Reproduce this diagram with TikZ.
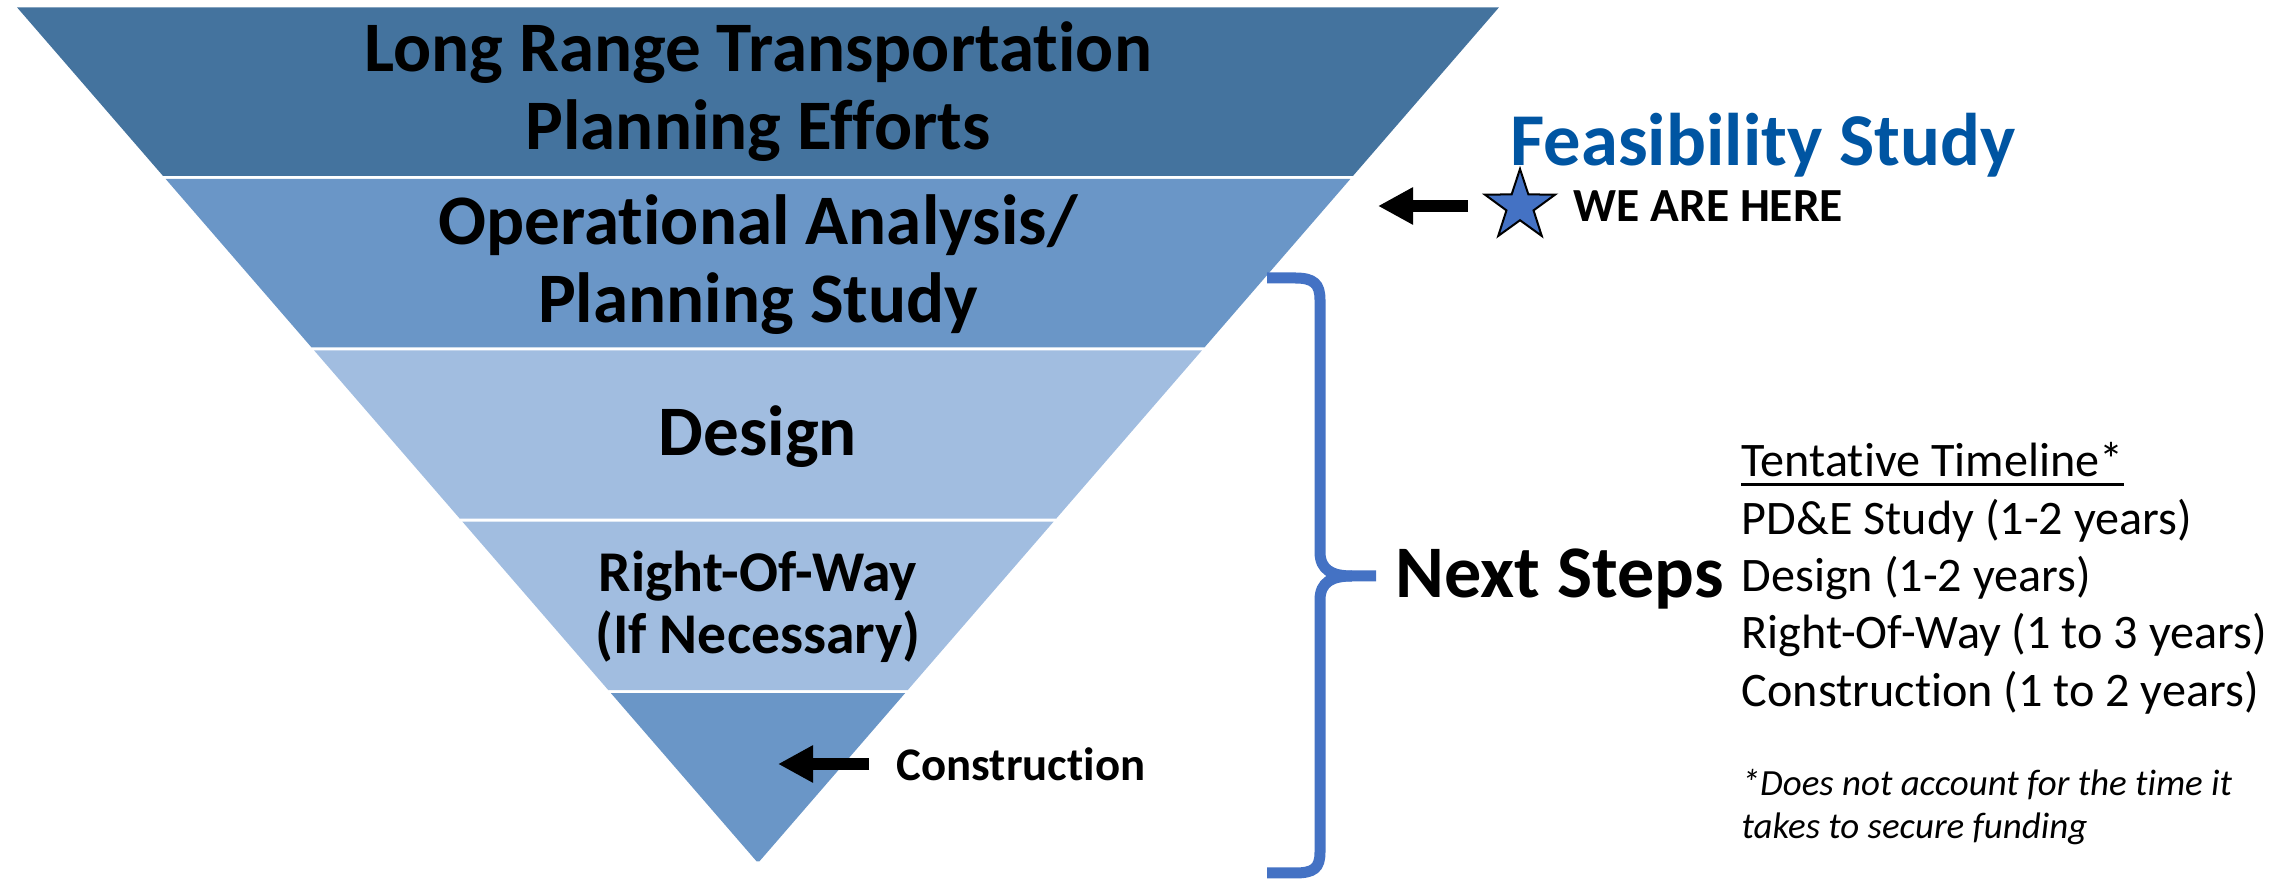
\documentclass[tikz,border=0pt]{standalone}
\usepackage{fontspec}
\setmainfont{Carlito}[Ligatures={TeX,NoCommon}]
\usetikzlibrary{arrows.meta,shapes.geometric}

\definecolor{bandDark}{HTML}{44739E}
\definecolor{bandMid}{HTML}{6A96C7}
\definecolor{bandLight}{HTML}{A1BDE0}
\definecolor{accentBlue}{HTML}{4472C4}
\definecolor{titleBlue}{HTML}{0055A2}

\tikzset{
  bandtext/.style={inner sep=0, anchor=base, font=\fontsize{20.2}{22}\selectfont\bfseries},
  rowtext/.style={inner sep=0, anchor=base, font=\fontsize{16.4}{19}\selectfont\bfseries},
  constext/.style={inner sep=0, anchor=base west, font=\fontsize{13.3}{15}\selectfont\bfseries},
  feastext/.style={inner sep=0, anchor=base west, text=titleBlue, font=\fontsize{21.2}{24}\selectfont\bfseries},
  heretext/.style={inner sep=0, anchor=base west, font=\fontsize{13.5}{15}\selectfont\bfseries},
  nexttext/.style={inner sep=0, anchor=base west, font=\fontsize{21.1}{24}\selectfont\bfseries},
  listtext/.style={inner sep=0, anchor=base west, font=\fontsize{13.7}{16}\selectfont},
  notetext/.style={inner sep=0, anchor=base west, font=\fontsize{10.5}{12}\selectfont\itshape},
  herestar/.style={star, star points=5, star point ratio=2.6, minimum size=0.74cm,
    inner sep=0, fill=accentBlue, draw=black, line width=0.02cm},
  blockarrow/.style={line width=0.12cm, -{Triangle[length=0.35cm,width=0.35cm]}},
  bracepen/.style={draw=accentBlue, line width=0.11cm}
}

\begin{document}
\begin{tikzpicture}[x=0.01cm, y=-0.01cm]
\useasboundingbox (0,0) rectangle (2290,880);

% funnel
\foreach \k/\col in {0/bandDark,1/bandMid,2/bandLight,3/bandLight,4/bandMid}{
  \pgfmathsetmacro\yt{6+171.4*\k+1.5}
  \pgfmathsetmacro\yb{6+171.4*(\k+1)-1.5}
  \fill[\col] ({758-0.866*(863-\yt)},\yt) -- ({758+0.866*(863-\yt)},\yt)
    -- ({758+0.866*(863-\yb)},\yb) -- ({758-0.866*(863-\yb)},\yb) -- cycle;
}

\node[bandtext] (lrtpA) at (758,72) {Long Range Transportation};
\node[bandtext] (lrtpB) at (758,150) {Planning Efforts};
\node[bandtext] (opsA) at (758,245) {Operational Analysis/};
\node[bandtext] (opsB) at (758,323) {Planning Study};
\node[bandtext] (design) at (758,456) {Design};
\node[rowtext] (rowA) at (758,592) {Right-Of-Way};
\node[rowtext] (rowB) at (758,654) {(If Necessary)};

% construction pointer
\node[constext] (cons) at (896,781) {Construction};
\coordinate (consTail) at (869,764);
\coordinate (consTip) at (778,764);
\draw[blockarrow] (consTail) -- (consTip);

% we are here
\node[feastext] (feas) at (1510,166) {Feasibility Study};
\node[herestar] (star) at (1520,206) {};
\node[heretext] (here) at (1573,222) {WE ARE HERE};
\coordinate (hereTail) at (1468,206);
\coordinate (hereTip) at (1378,206);
\draw[blockarrow] (hereTail) -- (hereTip);

% brace
\draw[bracepen] (1267,278) -- (1295,278) .. controls (1314,278) and (1320,284) .. (1320,300)
  -- (1320,552) .. controls (1320,570) and (1332,576) .. (1352,576) -- (1376,576);
\draw[bracepen] (1352,576) .. controls (1332,576) and (1320,582) .. (1320,600)
  -- (1320,852) .. controls (1320,868) and (1314,873) .. (1295,873) -- (1267,873);

\node[nexttext] (next) at (1395,598) {Next Steps};

% timeline
\node[listtext] (tline) at (1741,477) {Tentative Timeline*};
\draw[line width=0.03cm] ([yshift=-0.075cm]tline.base west) -- ([yshift=-0.075cm]tline.base east);
\foreach \t [count=\i] in {PD\&E Study (1-2 years), Design (1-2 years),
  Right-Of-Way (1 to 3 years), Construction (1 to 2 years)}
  \node[listtext] (phase\i) at (1741,{477+57.3*\i}) {\t};

\node[notetext] (noteA) at (1741,795.6) {*Does not account for the time it};
\node[notetext] (noteB) at (1741,839) {takes to secure funding};

\end{tikzpicture}
\end{document}
